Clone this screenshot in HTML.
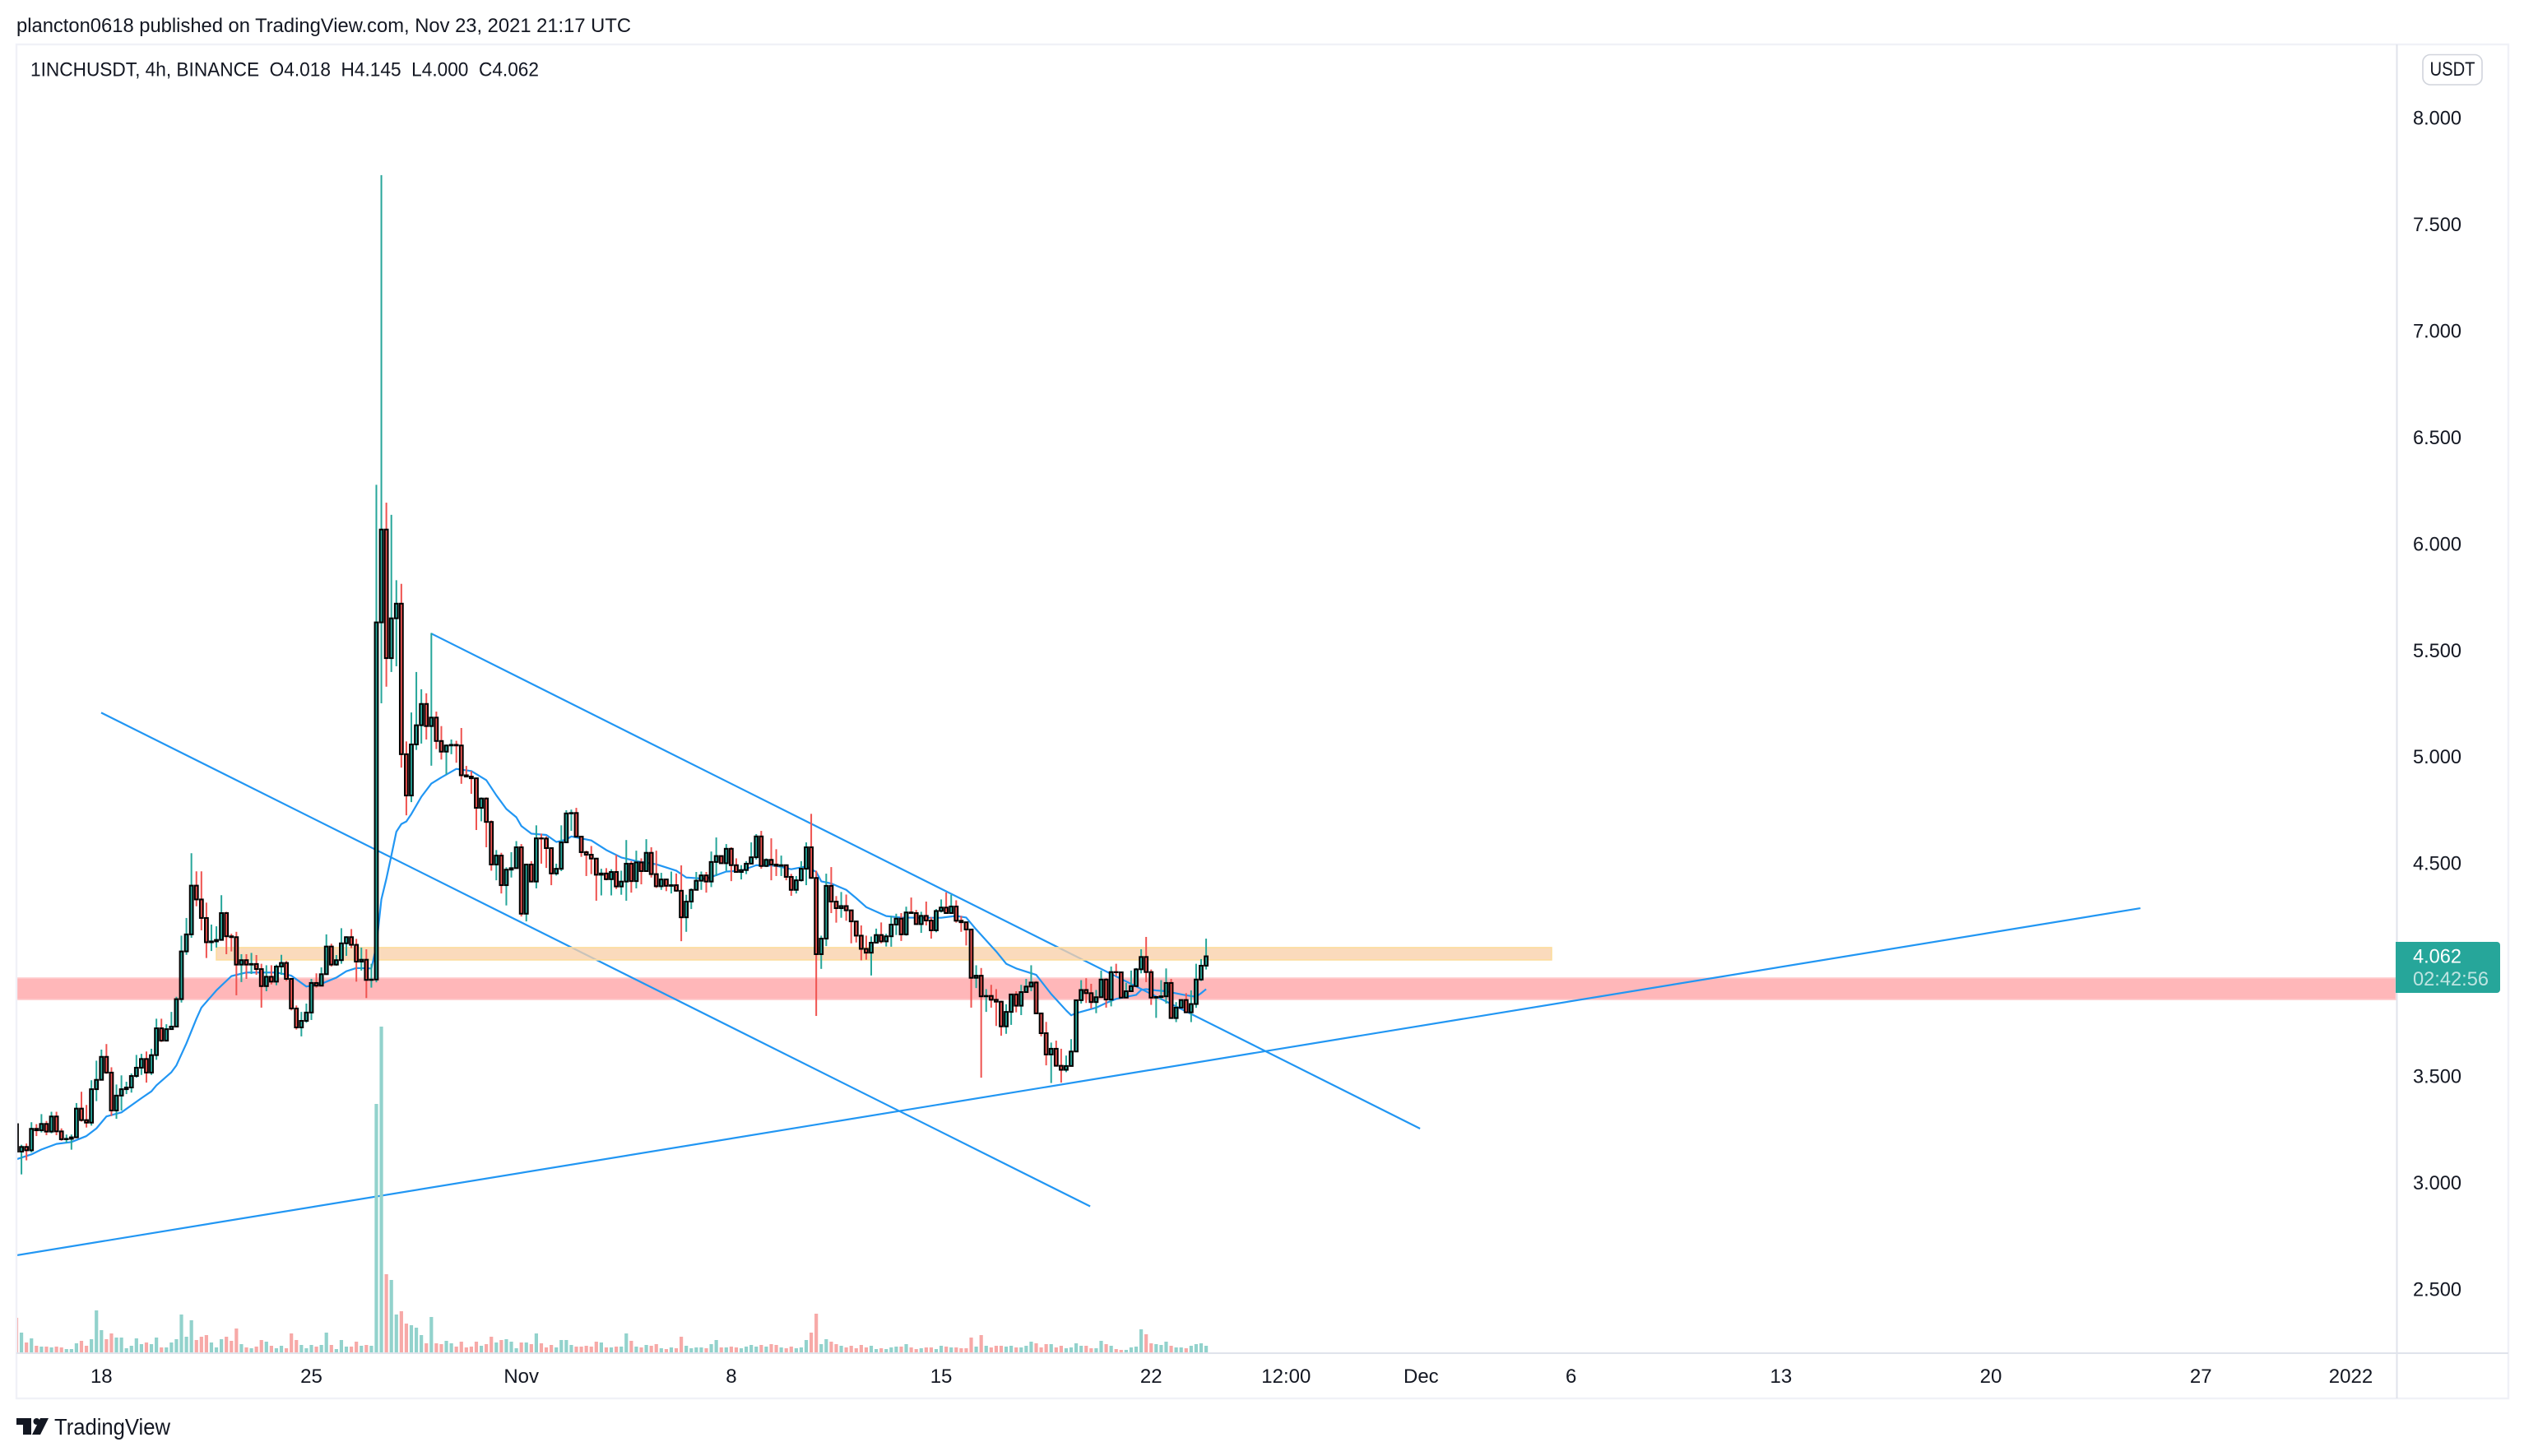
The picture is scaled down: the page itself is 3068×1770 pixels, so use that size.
<!DOCTYPE html>
<html lang="en">
<head>
<meta charset="utf-8">
<title>1INCHUSDT 4h chart</title>
<style>
html,body{margin:0;padding:0;background:#fff;width:3068px;height:1770px;overflow:hidden}
svg{display:block;font-family:"Liberation Sans",sans-serif}
text{fill:#131722;white-space:pre}
</style>
</head>
<body>
<svg id="chart" xmlns="http://www.w3.org/2000/svg" width="3068" height="1770" viewBox="0 0 3068 1770">
  <defs>
    <clipPath id="plot-clip"><rect x="21" y="55" width="2892" height="1589"/></clipPath>
  </defs>
  <rect x="0" y="0" width="3068" height="1770" fill="#ffffff"/>
  <text x="20" y="39" font-size="24.5" textLength="747" lengthAdjust="spacingAndGlyphs">plancton0618 published on TradingView.com, Nov 23, 2021 21:17 UTC</text>
  <g id="plot" clip-path="url(#plot-clip)"></g>
  <rect x="20" y="54" width="3029" height="1646" fill="none" stroke="#f0f1f7" stroke-width="2.4"/>
  <line x1="2913.5" y1="54" x2="2913.5" y2="1700" stroke="#e0e3eb" stroke-width="2"/>
  <line x1="20" y1="1645" x2="3049" y2="1645" stroke="#e0e3eb" stroke-width="2"/>
  <g id="price-axis"></g>
  <g id="time-axis"></g>
  <text x="37" y="92.5" font-size="24.5" textLength="618" lengthAdjust="spacingAndGlyphs">1INCHUSDT, 4h, BINANCE  O4.018  H4.145  L4.000  C4.062</text>
  <g>
    <rect x="2945" y="66.5" width="72" height="36.5" rx="9" fill="#ffffff" stroke="#d1d4dc" stroke-width="1.6"/>
    <text x="2981" y="92" font-size="24.5" text-anchor="middle" textLength="55" lengthAdjust="spacingAndGlyphs">USDT</text>
  </g>
  <g>
    <path d="M2912 1145H3035a4 4 0 0 1 4 4V1203a4 4 0 0 1 -4 4H2912Z" fill="#26a69a"/>
    <text x="2933" y="1170.5" font-size="24" style="fill:#ffffff" textLength="59" lengthAdjust="spacingAndGlyphs">4.062</text>
    <text x="2933" y="1198" font-size="24" style="fill:#ffffff;fill-opacity:.7" textLength="92" lengthAdjust="spacingAndGlyphs">02:42:56</text>
  </g>
  <g>
    <path d="M20 1724H38V1744H28V1732H20Z" fill="#131722"/>
    <circle cx="44.5" cy="1728" r="4" fill="#131722"/>
    <path d="M49 1724H59L49 1744H39Z" fill="#131722"/>
    <text x="66" y="1744" font-size="28" textLength="141" lengthAdjust="spacingAndGlyphs">TradingView</text>
  </g>
</svg>
<script>
const firstOpen = 3.274;
const closes = [
3.145,3.167,3.151,3.252,3.245,3.275,3.239,3.310,3.240,3.203,
3.205,3.212,3.347,3.293,3.281,3.438,3.482,3.590,3.516,3.338,
3.408,3.438,3.446,3.500,3.539,3.580,3.516,3.598,3.724,3.666,
3.720,3.732,3.861,4.085,4.165,4.394,4.329,4.242,4.128,4.132,
4.139,4.265,4.156,4.152,4.023,4.044,4.023,4.026,4.002,3.922,
3.966,3.943,4.014,4.031,3.956,3.817,3.728,3.759,3.798,3.937,
3.924,3.978,4.108,4.023,4.044,4.123,4.152,4.116,4.037,4.046,
3.951,3.953,5.630,6.066,5.462,5.649,5.718,5.011,4.817,5.057,
5.147,5.247,5.143,5.183,5.073,5.023,5.052,5.055,5.052,4.912,
4.906,4.898,4.759,4.803,4.693,4.493,4.535,4.396,4.469,4.476,
4.574,4.262,4.493,4.413,4.616,4.615,4.570,4.451,4.473,4.597,
4.733,4.735,4.624,4.551,4.539,4.521,4.445,4.451,4.424,4.458,
4.390,4.413,4.497,4.415,4.503,4.462,4.548,4.448,4.391,4.423,
4.393,4.396,4.370,4.245,4.319,4.374,4.417,4.442,4.413,4.505,
4.533,4.499,4.567,4.490,4.458,4.467,4.497,4.527,4.625,4.486,
4.515,4.493,4.487,4.490,4.435,4.374,4.419,4.473,4.574,4.430,
4.072,4.145,4.393,4.319,4.288,4.298,4.278,4.226,4.159,4.097,
4.079,4.126,4.162,4.132,4.156,4.211,4.239,4.165,4.268,4.265,
4.213,4.252,4.230,4.184,4.275,4.291,4.265,4.296,4.229,4.222,
4.188,3.961,3.971,3.874,3.876,3.858,3.849,3.733,3.801,3.883,
3.830,3.894,3.920,3.939,3.794,3.701,3.601,3.628,3.548,3.529,
3.547,3.615,3.856,3.904,3.889,3.847,3.870,3.953,3.859,3.988,
3.987,3.868,3.898,3.922,4.001,4.059,3.988,3.868,3.871,3.874,
3.937,3.772,3.821,3.857,3.799,3.838,3.953,4.018,4.062];
const highs = [
3.283,3.177,3.183,3.283,3.274,3.321,3.289,3.332,3.332,3.254,
3.225,3.225,3.373,3.426,3.364,3.480,3.572,3.624,3.650,3.541,
3.460,3.503,3.473,3.512,3.599,3.604,3.615,3.628,3.769,3.769,
3.743,3.801,3.872,4.159,4.242,4.546,4.461,4.461,4.314,4.211,
4.203,4.349,4.271,4.168,4.177,4.072,4.072,4.078,4.068,4.027,
4.020,4.020,4.023,4.069,4.040,3.956,3.831,3.801,3.840,3.956,
3.982,4.010,4.165,4.121,4.068,4.194,4.156,4.190,4.144,4.103,
4.095,4.027,6.276,7.730,6.192,6.135,5.828,5.811,5.071,5.207,
5.397,5.316,5.297,5.580,5.211,5.143,5.057,5.080,5.074,5.134,
4.956,4.932,4.898,4.808,4.808,4.700,4.561,4.548,4.480,4.551,
4.603,4.589,4.497,4.509,4.677,4.638,4.625,4.574,4.497,4.677,
4.748,4.751,4.759,4.625,4.558,4.580,4.522,4.473,4.476,4.471,
4.538,4.464,4.608,4.509,4.558,4.522,4.612,4.574,4.558,4.454,
4.426,4.460,4.451,4.489,4.351,4.381,4.458,4.460,4.458,4.554,
4.620,4.535,4.589,4.574,4.522,4.490,4.509,4.597,4.636,4.651,
4.522,4.616,4.565,4.535,4.490,4.449,4.439,4.509,4.597,4.731,
4.464,4.159,4.450,4.481,4.345,4.364,4.352,4.278,4.226,4.207,
4.159,4.155,4.192,4.221,4.168,4.252,4.262,4.265,4.295,4.338,
4.280,4.271,4.319,4.246,4.284,4.329,4.362,4.351,4.325,4.252,
4.220,4.188,4.020,4.007,3.908,3.928,3.908,3.853,3.837,3.885,
3.898,3.928,3.956,4.020,3.946,3.795,3.754,3.657,3.666,3.628,
3.596,3.673,3.859,3.950,3.959,3.933,3.904,3.995,3.959,4.014,
4.027,3.986,3.937,3.995,4.007,4.095,4.153,4.000,3.872,3.950,
4.005,3.956,3.847,3.859,3.889,3.902,4.027,4.049,4.145];
const lows = [
3.087,3.038,3.104,3.141,3.218,3.235,3.222,3.231,3.222,3.196,
3.186,3.154,3.209,3.286,3.258,3.267,3.382,3.480,3.510,3.312,
3.299,3.338,3.415,3.422,3.492,3.505,3.469,3.505,3.576,3.660,
3.662,3.717,3.733,3.845,4.069,4.149,4.297,4.184,4.054,4.087,
4.103,4.136,4.072,4.085,3.879,3.941,3.956,3.979,3.975,3.821,
3.898,3.930,3.926,3.975,3.946,3.808,3.718,3.686,3.750,3.763,
3.915,3.924,3.975,4.014,4.018,4.027,4.064,4.100,3.943,3.995,
3.866,3.915,3.940,5.250,5.328,5.397,5.424,4.948,4.724,4.786,
5.031,5.061,5.080,4.957,5.035,4.986,4.916,5.011,4.971,4.872,
4.902,4.825,4.655,4.696,4.574,4.464,4.419,4.357,4.301,4.432,
4.473,4.249,4.226,4.409,4.381,4.497,4.477,4.396,4.441,4.462,
4.597,4.651,4.621,4.529,4.439,4.448,4.323,4.348,4.419,4.348,
4.378,4.351,4.323,4.361,4.381,4.400,4.460,4.432,4.383,4.374,
4.368,4.357,4.365,4.133,4.177,4.284,4.374,4.374,4.361,4.387,
4.439,4.497,4.464,4.415,4.455,4.423,4.448,4.497,4.516,4.473,
4.481,4.419,4.439,4.439,4.419,4.346,4.357,4.413,4.396,4.426,
3.782,4.003,4.110,4.265,4.220,4.243,4.229,4.123,4.127,4.043,
4.046,3.972,4.123,4.123,4.108,4.107,4.162,4.134,4.159,4.262,
4.211,4.172,4.207,4.145,4.175,4.268,4.262,4.268,4.220,4.177,
4.113,3.821,3.913,3.492,3.801,3.821,3.735,3.689,3.698,3.740,
3.799,3.786,3.892,3.898,3.791,3.686,3.550,3.467,3.544,3.469,
3.518,3.550,3.615,3.840,3.843,3.817,3.795,3.872,3.821,3.827,
3.969,3.866,3.866,3.898,3.924,3.982,3.941,3.834,3.773,3.859,
3.840,3.769,3.753,3.821,3.795,3.753,3.820,3.946,4.000];
const volumes = [
420,240,120,170,80,70,70,60,70,60,
40,40,110,140,80,160,510,270,160,230,
180,180,50,80,170,100,120,100,180,60,
60,120,160,460,190,390,150,190,210,120,
60,160,190,140,290,100,60,50,70,150,
130,80,50,80,50,230,150,90,50,90,
70,90,240,90,40,150,70,70,130,80,
90,80,3020,3960,950,880,460,500,350,330,
300,210,110,430,110,100,140,110,70,130,
60,70,130,80,100,190,120,150,160,130,
50,120,120,100,230,110,60,90,60,150,
150,90,70,70,80,70,130,120,60,60,
70,70,230,140,70,60,90,80,100,50,
40,60,50,190,80,50,60,60,50,100,
150,60,60,70,60,50,70,90,70,90,
70,100,90,60,50,70,50,60,150,240,
470,100,160,130,100,80,60,80,50,90,
60,80,40,50,40,60,70,70,100,60,
40,50,60,60,40,80,70,60,60,50,
50,180,70,210,80,60,80,80,70,80,
60,60,80,130,110,60,100,100,60,80,
50,60,110,80,80,50,50,140,100,80,
40,30,30,60,70,280,220,110,100,90,
130,80,60,60,50,80,100,110,80];
const maBars = [0,3,5,8,11,14,16,18,21,25,27,28,31,32,34,36,37,40,43,46,52,55,58,61,64,66,68,71,72,73,74,75,76,77,78,79,81,83,85,88,91,94,96,98,100,101,103,106,108,110,111,115,118,121,124,128,132,134,138,142,145,148,152,155,158,160,161,163,166,168,170,174,177,181,185,188,190,192,196,198,200,204,207,210,211,212,214,216,218,220,224,225,226,228,230,232,234,236,237,238];
const maValues = [3.109,3.132,3.155,3.181,3.190,3.218,3.254,3.310,3.329,3.396,3.428,3.456,3.518,3.550,3.653,3.769,3.821,3.902,3.969,3.986,3.986,3.971,3.920,3.933,3.962,3.992,4.007,4.005,4.110,4.329,4.426,4.535,4.647,4.683,4.695,4.730,4.811,4.873,4.902,4.942,4.932,4.889,4.818,4.754,4.715,4.674,4.638,4.632,4.599,4.610,4.625,4.606,4.561,4.526,4.509,4.494,4.464,4.432,4.426,4.460,4.464,4.490,4.487,4.471,4.484,4.458,4.414,4.404,4.374,4.335,4.293,4.251,4.244,4.243,4.243,4.252,4.244,4.188,4.085,4.027,4.005,3.975,3.885,3.808,3.785,3.795,3.808,3.821,3.843,3.862,3.881,3.904,3.908,3.902,3.898,3.888,3.879,3.872,3.889,3.908];
const trendLineStartBars = [16.95,82.95,0];
const trendLineStartPrices = [5.206,5.578,2.658];
const trendLineEndBars = [214.8,280.8,424.9];
const trendLineEndPrices = [2.888,3.253,4.288];
const priceTicks = [8,7.5,7,6.5,6,5.5,5,4.5,4,3.5,3,2.5];
const timeTickBars = [17,59,101,143,185,227,254,281,311,353,395,437,467];
const timeTickLabels = ['18','25','Nov','8','15','22','12:00','Dec','6','13','20','27','2022'];

const NS = 'http://www.w3.org/2000/svg';
const barX = i => 20 + 6.076 * i;
const priceY = p => 143 + (8 - p) * 258.9;
const volumeY = v => 1644 - v * 0.1;
const plot = document.getElementById('plot');
const priceAxis = document.getElementById('price-axis');
const timeAxis = document.getElementById('time-axis');
const make = (tag, parent) => { const e = document.createElementNS(NS, tag); parent.appendChild(e); return e; };

function addZone(parent, startBar, endBar, topPrice, bottomPrice, fill, opacity, stroke) {
  const r = make('rect', parent);
  r.setAttribute('x', barX(startBar));
  r.setAttribute('y', priceY(topPrice));
  r.setAttribute('width', barX(endBar) - barX(startBar));
  r.setAttribute('height', priceY(bottomPrice) - priceY(topPrice));
  r.setAttribute('fill', fill);
  r.setAttribute('fill-opacity', opacity);
  r.setAttribute('stroke', stroke);
  r.setAttribute('stroke-width', 1.6);
  return r;
}

const pinkZone = addZone(plot, -1, 476, 3.960, 3.859, '#ffb7b9', 1, '#ffcdce');



trendLineStartBars.forEach((b, k) => {
  const l = make('line', plot);
  l.setAttribute('x1', barX(b));
  l.setAttribute('y1', priceY(trendLineStartPrices[k]));
  l.setAttribute('x2', barX(trendLineEndBars[k]));
  l.setAttribute('y2', priceY(trendLineEndPrices[k]));
  l.setAttribute('stroke', '#2196f3');
  l.setAttribute('stroke-width', 2.2);
  
  
});

const orangeZone = addZone(plot, 40, 307.1, 4.103, 4.045, '#f9cfa9', 0.78, '#fcdc9c');



const opens = closes.map((c, i) => i === 0 ? firstOpen : closes[i - 1]);
const isUp = i => closes[i] >= opens[i];

volumes.forEach((v, i) => {
  const r = make('rect', plot);
  r.setAttribute('x', barX(i) - 2.1);
  r.setAttribute('y', volumeY(v));
  r.setAttribute('width', 4.2);
  r.setAttribute('height', volumeY(0) - volumeY(v));
  r.setAttribute('fill', isUp(i) ? '#92d2cc' : '#f7a9a7');
  
  
});

const ma = make('polyline', plot);
ma.setAttribute('points', maBars.map((b, k) => barX(b) + ',' + priceY(maValues[k])).join(' '));
ma.setAttribute('fill', 'none');
ma.setAttribute('stroke', '#2196f3');
ma.setAttribute('stroke-width', 2.2);
ma.setAttribute('stroke-linejoin', 'round');



closes.forEach((c, i) => {
  const w = make('rect', plot);
  w.setAttribute('x', barX(i) - 1);
  w.setAttribute('y', priceY(highs[i]));
  w.setAttribute('width', 2);
  w.setAttribute('height', priceY(lows[i]) - priceY(highs[i]));
  w.setAttribute('fill', isUp(i) ? '#26a69a' : '#ef5350');
  
  
});
closes.forEach((c, i) => {
  const top = Math.max(opens[i], c), bottom = Math.min(opens[i], c);
  const b = make('rect', plot);
  b.setAttribute('x', barX(i) - 1.9);
  b.setAttribute('y', priceY(top));
  b.setAttribute('width', 3.8);
  b.setAttribute('height', priceY(bottom) - priceY(top));
  b.setAttribute('fill', isUp(i) ? '#26a69a' : '#ef5350');
  b.setAttribute('stroke', '#000000');
  b.setAttribute('stroke-width', 2);
  
  
});

priceTicks.forEach(p => {
  const t = make('text', priceAxis);
  t.setAttribute('x', 2933);
  t.setAttribute('y', priceY(p) + 8.5);
  t.setAttribute('font-size', 24);
  t.setAttribute('textLength', 59);
  t.setAttribute('lengthAdjust', 'spacingAndGlyphs');
  t.textContent = p.toFixed(3);
  
  
});

timeTickBars.forEach((b, k) => {
  const t = make('text', timeAxis);
  t.setAttribute('x', barX(b));
  t.setAttribute('y', 1681);
  t.setAttribute('font-size', 24);
  t.setAttribute('text-anchor', 'middle');
  t.textContent = timeTickLabels[k];
  
  
});
</script>
</body>
</html>
